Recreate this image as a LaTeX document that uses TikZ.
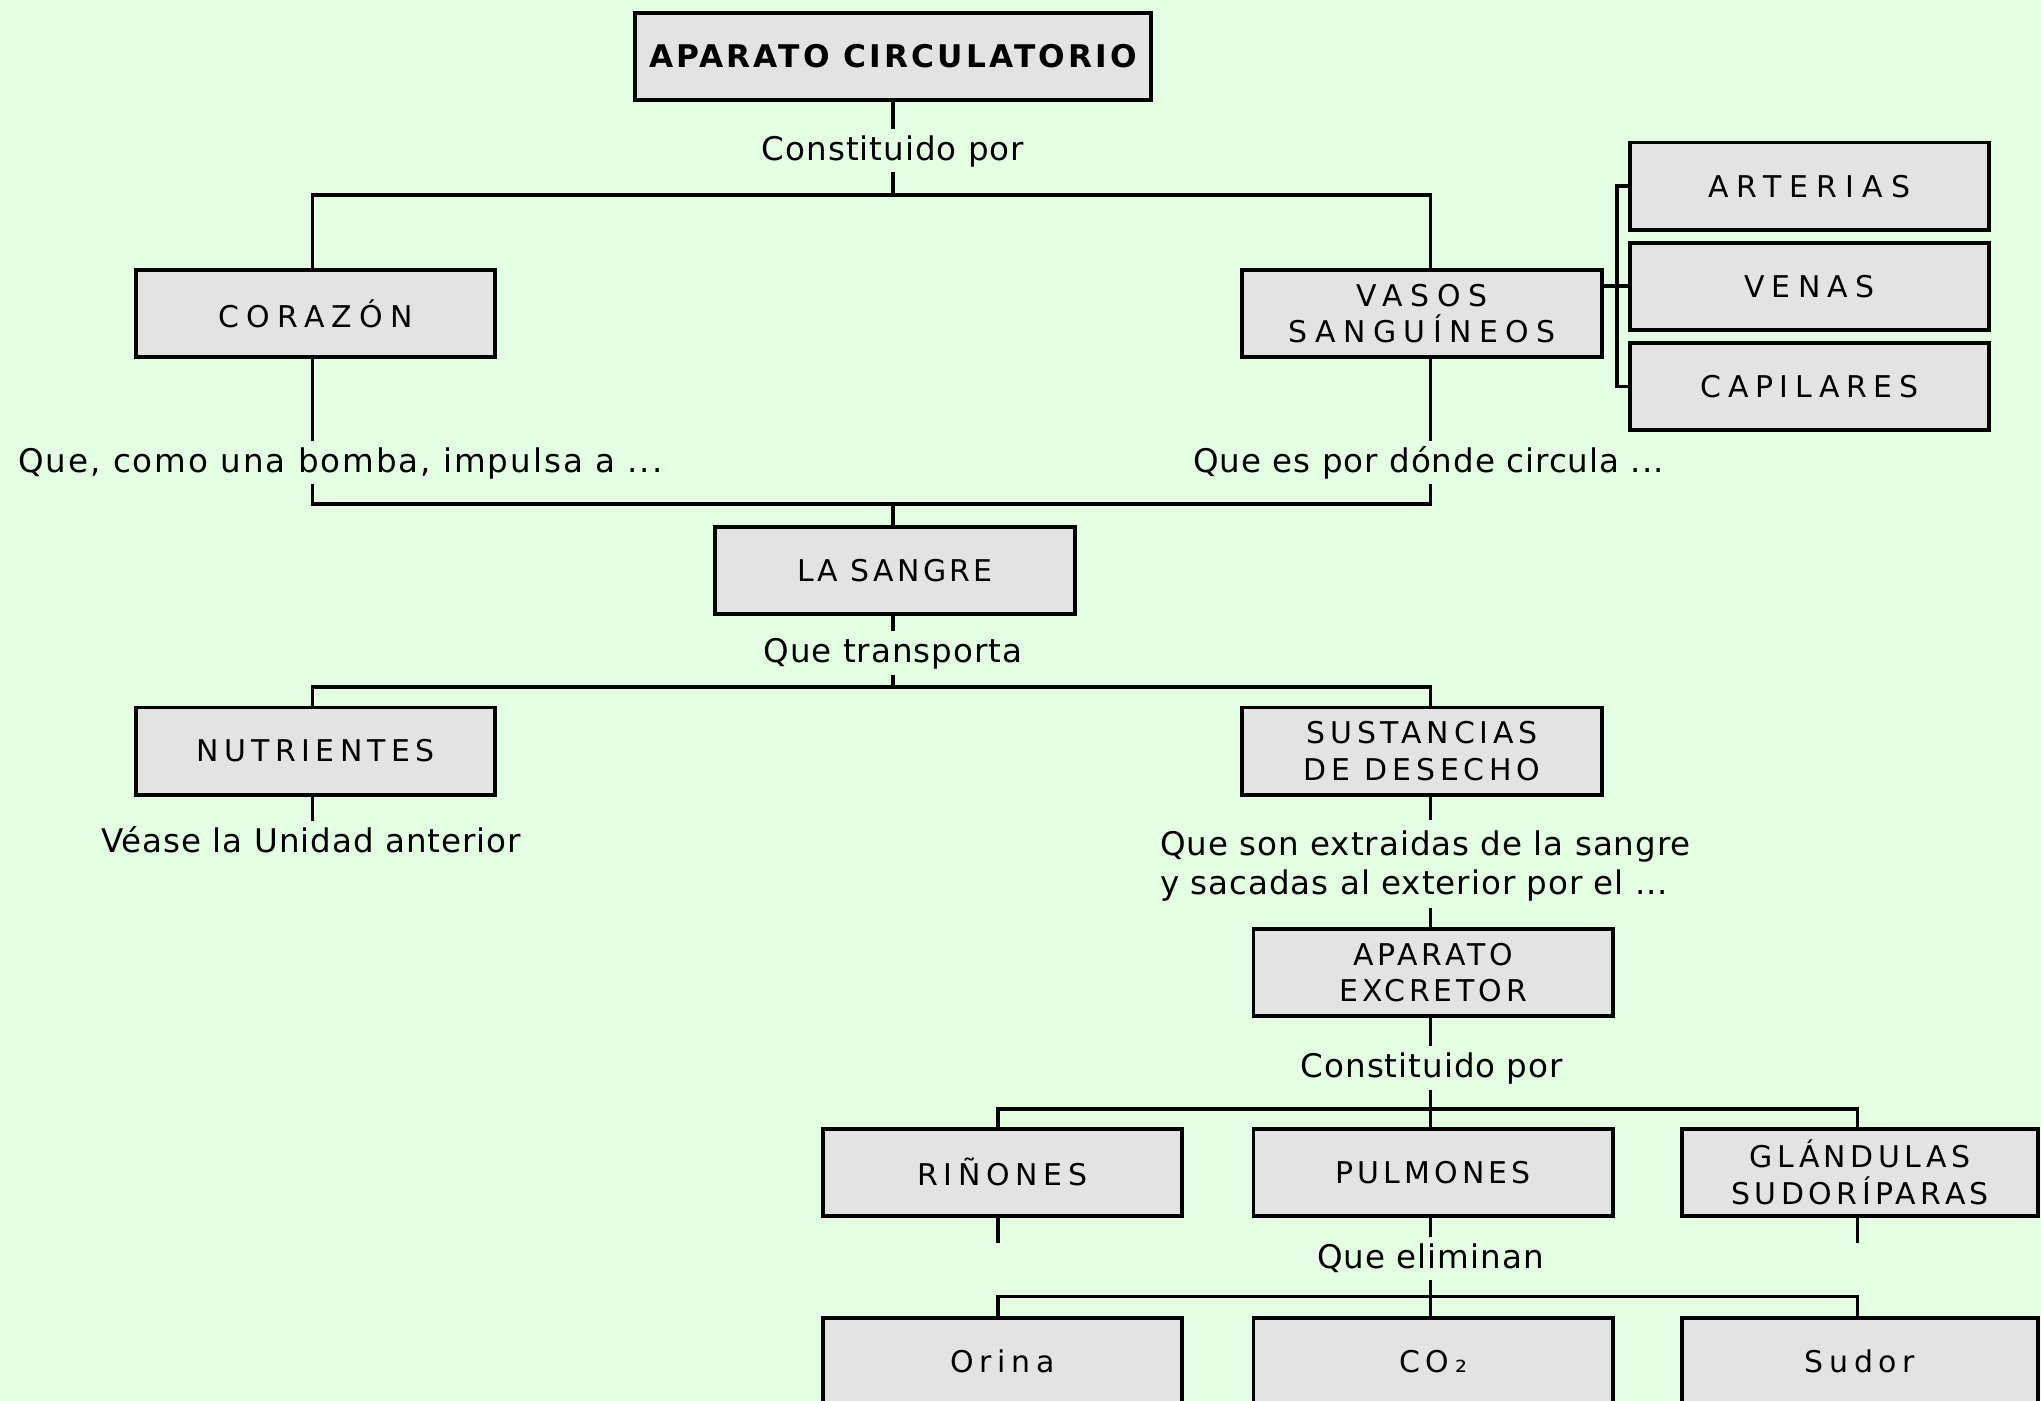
\documentclass[tikz,border=0pt]{standalone}
\usepackage{fontspec}
\setmainfont{DejaVu Sans}
\usetikzlibrary{calc}
\definecolor{bg}{RGB}{228,254,228}
\definecolor{boxfill}{RGB}{227,227,227}
\newcommand\lsp[1]{\addfontfeatures{LetterSpace=#1}}
\begin{document}
\begin{tikzpicture}[x=1pt,y=-1pt,
  box/.style={draw=black, line width=3pt, fill=boxfill, minimum width=276pt,
    minimum height=67pt, inner sep=0pt, align=center},
  bt/.style={font=\fontsize{23}{28}\selectfont\lsp{#1}},
  lbl/.style={inner xsep=2pt, inner ysep=3pt, text height=21pt, text depth=6pt,
    anchor=base, font=\fontsize{25}{30}\selectfont\lsp{3}},
  conn/.style={line width=2.9pt}]
\useasboundingbox (0,0) rectangle (1568,1076);
\fill[bg] (0,0) rectangle (1568,1076);
\clip (0,0) rectangle (1568,1076);

% boxes
\node[box, minimum width=396pt, font=\bfseries\fontsize{24}{28}\selectfont\lsp{10}] (ac) at (686,43.5) {APARATO CIRCULATORIO};
\node[box, bt=24] (cor) at (242.5,241) {CORAZÓN};
\node[box, bt=25] (vas) at (1092.5,241) {VASOS\\SANGUÍNEOS};
\node[box, bt=27] (art) at (1390,143) {ARTERIAS};
\node[box, bt=24] (ven) at (1390,220) {VENAS};
\node[box, bt=22] (cap) at (1390,297) {CAPILARES};
\node[box, bt=11, minimum width=277pt] (san) at (687.5,438.5) {LA SANGRE};
\node[box, bt=18] (nut) at (242.5,577) {NUTRIENTES};
\node[box, bt=16] (sus) at (1092.5,577) {SUSTANCIAS\\DE DESECHO};
\node[box, bt=13] (exc) at (1101,747) {APARATO\\EXCRETOR};
\node[box, bt=19] (rin) at (770,900.5) {RIÑONES};
\node[box, bt=14] (pul) at (1101,900.5) {PULMONES};
\node[box, bt=15, minimum width=274pt] (gla) at (1429,900.5) {GLÁNDULAS\\SUDORÍPARAS};
\node[box, bt=19] (ori) at (770,1046) {Orina};
\node[box, bt=19] (co2) at (1101,1046) {CO₂};
\node[box, bt=19, minimum width=274pt] (sud) at (1429,1046) {Sudor};

% labels
\node[lbl] (l1) at (686,123) {Constituido por};
\node[lbl, font=\fontsize{25}{30}\selectfont\lsp{6}] (l2) at (261.5,363) {Que, como una bomba, impulsa a ...};
\node[lbl] (l3) at (1097.5,363) {Que es por dónde circula ...};
\node[lbl] (l4) at (686,509) {Que transporta};
\node[lbl] (l5) at (239,655) {Véase la Unidad anterior};
\node[anchor=north west, inner xsep=0pt, inner ysep=0pt, align=left,
  font=\fontsize{25}{30}\selectfont\lsp{3}] (l6) at (891,630)
  {\rule{0pt}{27pt}Que son extraidas de la sangre\\y sacadas al exterior por el ...\rule[-10pt]{0pt}{10pt}};
\node[lbl] (l7) at (1100,828) {Constituido por};
\node[lbl] (l8) at (1099,974.5) {Que eliminan};

% junction coordinates
\coordinate (jA) at (686,150);
\coordinate (jAL) at (240,150);
\coordinate (jAR) at (1099,150);
\coordinate (jB) at (686,387);
\coordinate (jBL) at (240,387);
\coordinate (jBR) at (1099,387);
\coordinate (jC) at (686,528);
\coordinate (jCL) at (240,528);
\coordinate (jCR) at (1099,528);
\coordinate (jD) at (1099,852);
\coordinate (jDL) at (767,852);
\coordinate (jDR) at (1427,852);
\coordinate (jE) at (1099,996);
\coordinate (jEL) at (767,996);
\coordinate (jER) at (1427,996);
\coordinate (vx) at (1242,220);
\coordinate (sL) at (767,955);
\coordinate (sR) at (1427,955);

% connectors
\draw[conn] (ac.south -| jA) -- (l1.north -| jA);
\draw[conn] (l1.south -| jA) -- (jA);
\draw[conn] (cor.north -| jAL) -- (jAL) -- (jAR) -- (vas.north -| jAR);
\draw[conn] (cor.south -| jAL) -- (l2.north -| jAL);
\draw[conn] (vas.south -| jAR) -- (l3.north -| jAR);
\draw[conn] (l2.south -| jBL) -- (jBL) -- (jBR) -- (l3.south -| jBR);
\draw[conn] (jB) -- (san.north -| jB);
\draw[conn] (vas.east |- ven.west) -- (ven.west);
\draw[conn] (art.west) -- (art.west -| vx) -- (cap.west -| vx) -- (cap.west);
\draw[conn] (san.south -| jC) -- (l4.north -| jC);
\draw[conn] (l4.south -| jC) -- (jC);
\draw[conn] (nut.north -| jCL) -- (jCL) -- (jCR) -- (sus.north -| jCR);
\draw[conn] (nut.south -| jCL) -- (l5.north -| jCL);
\draw[conn] (sus.south -| jCR) -- (l6.north -| jCR);
\draw[conn] (l6.south -| jCR) -- (exc.north -| jCR);
\draw[conn] (exc.south -| jD) -- (l7.north -| jD);
\draw[conn] (l7.south -| jD) -- (jD);
\draw[conn] (rin.north -| jDL) -- (jDL) -- (jDR) -- (gla.north -| jDR);
\draw[conn] (jD) -- (pul.north -| jD);
\draw[conn] (rin.south -| sL) -- (sL);
\draw[conn] (gla.south -| sR) -- (sR);
\draw[conn] (pul.south -| jE) -- (l8.north -| jE);
\draw[conn] (l8.south -| jE) -- (jE);
\draw[conn] (ori.north -| jEL) -- (jEL) -- (jER) -- (sud.north -| jER);
\draw[conn] (jE) -- (co2.north -| jE);
\end{tikzpicture}
\end{document}
